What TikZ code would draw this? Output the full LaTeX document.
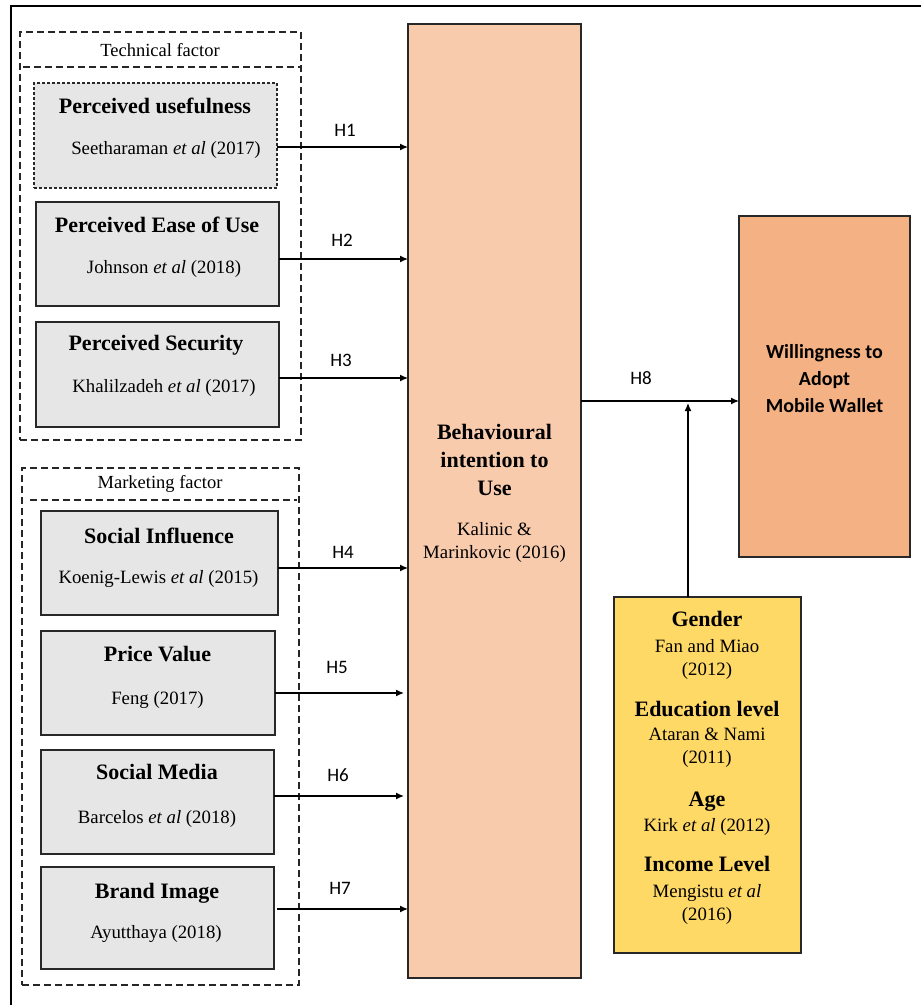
\documentclass[tikz,border=0pt]{standalone}
\usepackage{fontspec}
\setmainfont{Liberation Serif}
\newfontfamily\calfont{Carlito}
\usetikzlibrary{arrows.meta,calc}
\definecolor{boxgray}{RGB}{231,230,230}
\definecolor{peach}{RGB}{248,203,173}
\definecolor{apricot}{RGB}{244,177,131}
\definecolor{gold}{RGB}{255,217,102}
\definecolor{edge}{RGB}{40,40,40}

\begin{document}
\begin{tikzpicture}[x=1pt,y=-1pt,line width=1.2pt,
  box/.style={rectangle,draw=edge,inner sep=0pt,outer sep=0pt,line width=1.3pt},
  factorbox/.style={box,fill=boxgray},
  groupbox/.style={rectangle,draw=black!85,inner sep=0pt,outer sep=0pt,line width=1.1pt,dash pattern=on 7pt off 4pt},
  grpline/.style={draw=black!85,line width=1.1pt,dash pattern=on 7pt off 4pt},
  txt/.style={inner sep=0pt,text height=0.66em,text depth=0pt,align=center,yshift=-3.5pt},
  title/.style={txt,font=\fontsize{22}{28}\selectfont\bfseries},
  cite/.style={txt,font=\fontsize{18.8}{23}\selectfont},
  grp/.style={txt,font=\fontsize{18.5}{22}\selectfont},
  hyp/.style={txt,font=\calfont\fontsize{19}{22}\selectfont},
  arr/.style={draw=black,line width=1.3pt,-{Latex[length=8pt,width=7pt]}}]

\useasboundingbox (0,0) rectangle (921,1005);

% outer frame (top and left sides)
\coordinate (fr1) at (11,1005);
\coordinate (fr2) at (11,6);
\coordinate (fr3) at (921,6);
\draw[line width=1.5pt] (fr1) -- (fr2) -- (fr3);

% ---------- technical factor group ----------
% (multi-line texts are placed by the position of their last line)
\node[groupbox,minimum width=281pt,minimum height=408pt] (tech) at (160.5,236) {};
\coordinate (tl1) at (23,67);
\coordinate (tl2) at (301,67);
\path[grpline] (tl1) -- (tl2);
\node[grp] (techlbl) at (160,50) {Technical factor};

\node[box,fill=boxgray,line width=1.2pt,dash pattern=on 3pt off 2pt,minimum width=243pt,minimum height=105pt] (pu) at (155.5,135.5) {};
\node[title] (put) at (155,107) {Perceived usefulness};
\node[cite] (puc) at (166,148) {Seetharaman \textit{et al} (2017)};

\node[factorbox,minimum width=243pt,minimum height=104pt] (peou) at (157.5,254) {};
\node[title] (peout) at (157,226) {Perceived Ease of Use};
\node[cite] (peouc) at (164,267) {Johnson \textit{et al} (2018)};

\node[factorbox,minimum width=243pt,minimum height=105pt] (ps) at (157.5,374.5) {};
\node[title] (pst) at (156,344) {Perceived Security};
\node[cite] (psc) at (164,386) {Khalilzadeh \textit{et al} (2017)};

% ---------- marketing factor group ----------
\node[groupbox,minimum width=277pt,minimum height=517pt] (mkt) at (160.5,726.5) {};
\coordinate (ml1) at (30,500);
\coordinate (ml2) at (297,500);
\path[grpline] (ml1) -- (ml2);
\node[grp] (mktlbl) at (160,482) {Marketing factor};

\node[factorbox,minimum width=237pt,minimum height=104pt] (si) at (159.5,563) {};
\node[title] (sit) at (159,537) {Social Influence};
\node[cite] (sic) at (158.5,577) {Koenig-Lewis \textit{et al} (2015)};

\node[factorbox,minimum width=234pt,minimum height=104pt] (pv) at (158,683) {};
\node[title] (pvt) at (157.5,655) {Price Value};
\node[cite] (pvc) at (157.5,698) {Feng (2017)};

\node[factorbox,minimum width=233pt,minimum height=104pt] (sm) at (157.5,802) {};
\node[title] (smt) at (157,773) {Social Media};
\node[cite] (smc) at (157,817) {Barcelos \textit{et al} (2018)};

\node[factorbox,minimum width=233pt,minimum height=102pt] (bim) at (157.5,918) {};
\node[title] (bimt) at (157,892) {Brand Image};
\node[cite] (bimc) at (156,932) {Ayutthaya (2018)};

% ---------- behavioural intention ----------
\node[box,fill=peach,minimum width=173pt,minimum height=954pt] (bi) at (494.5,501) {};
\node[title] (bit) at (494.5,489) {Behavioural\\intention to\\Use};
\node[cite] (bic) at (494.5,552) {Kalinic \&\\Marinkovic (2016)};

% ---------- willingness to adopt ----------
\node[box,fill=apricot,minimum width=171pt,minimum height=341pt] (will) at (824.5,386.5) {};
\node[txt,font=\calfont\fontsize{20}{27}\selectfont\bfseries] (willt) at (824.5,406) {Willingness to\\Adopt\\Mobile Wallet};

% ---------- demographic moderators ----------
\node[box,fill=gold,minimum width=187pt,minimum height=356pt] (demo) at (707.5,775) {};
\node[title] (gt) at (707,620) {Gender};
\node[cite] (gc) at (707,669) {Fan and Miao\\(2012)};
\node[title] (et) at (707,710) {Education level};
\node[cite] (ec) at (707,757) {Ataran \& Nami\\(2011)};
\node[title] (at) at (707,800) {Age};
\node[cite] (ac) at (707,825) {Kirk \textit{et al} (2012)};
\node[title] (it) at (707,865) {Income Level};
\node[cite] (ic) at (707,914) {Mengistu \textit{et al}\\(2016)};

% ---------- hypotheses ----------
\coordinate (y1) at (0,147);
\coordinate (y2) at (0,259);
\coordinate (y3) at (0,378);
\coordinate (y4) at (0,568);
\coordinate (y5) at (0,693);
\coordinate (y6) at (0,796);
\coordinate (y7) at (0,909);
\coordinate (y8) at (0,401);

\draw[arr] (pu.east |- y1) -- (bi.west |- y1);
\draw[arr] (peou.east |- y2) -- (bi.west |- y2);
\draw[arr] (ps.east |- y3) -- (bi.west |- y3);
\draw[arr] (si.east |- y4) -- (bi.west |- y4);
\draw[arr] (pv.east |- y5) -- ($(bi.west |- y5)+(-4,0)$);
\draw[arr] (sm.east |- y6) -- ($(bi.west |- y6)+(-4,0)$);
\draw[arr] ($(bim.east |- y7)+(3,0)$) -- (bi.west |- y7);
\draw[arr] (bi.east |- y8) -- (will.west |- y8);

\coordinate (vx) at (688,403);
\draw[arr] (demo.north -| vx) -- (vx);

\node[hyp] (h1) at (345,130) {H1};
\node[hyp] (h2) at (342,240) {H2};
\node[hyp] (h3) at (341,360) {H3};
\node[hyp] (h4) at (343,552) {H4};
\node[hyp] (h5) at (337,667) {H5};
\node[hyp] (h6) at (338,775) {H6};
\node[hyp] (h7) at (340,888) {H7};
\node[hyp] (h8) at (641,378) {H8};

\end{tikzpicture}
\end{document}
